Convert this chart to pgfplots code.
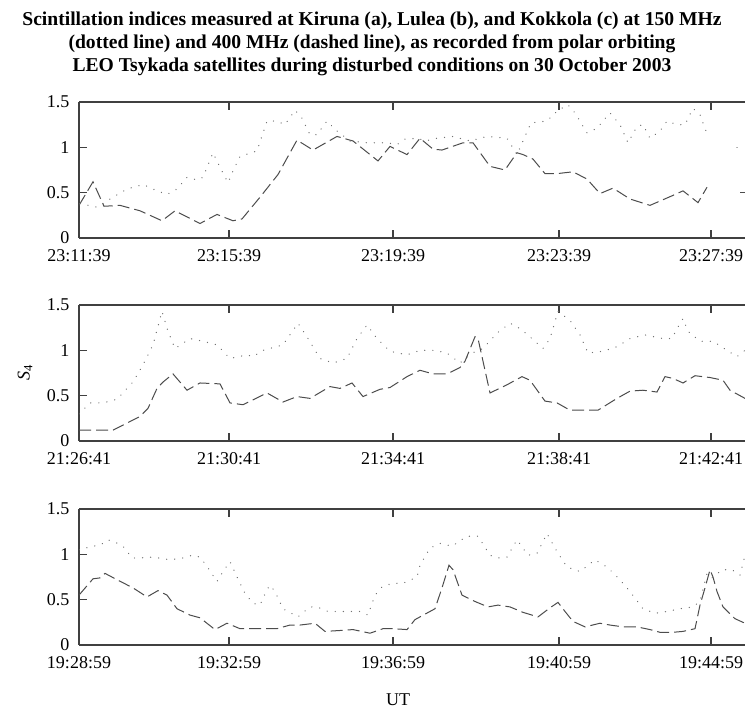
\documentclass[border=0pt]{standalone}
\usepackage{fontspec}
\setmainfont{Liberation Serif}
\usepackage{pgfplots}
\pgfplotsset{compat=1.18}

\pgfplotsset{
  panel/.style={
    scale only axis, width=666pt, height=136pt,
    xmin=0, xmax=666, ymin=0, ymax=1.5,
    axis y line*=left,
    ytick={0,0.5,1,1.5},
    xtick={0,150,314,480,632},
    tick align=inside, major tick length=8pt,
    axis line style={line width=1.1pt, black!75},
    every tick/.style={line width=1.1pt, black!75},
    tick label style={font=\fontsize{18}{20}\selectfont},
    /pgf/number format/assume math mode=true,
    xticklabel style={yshift=-8pt},
    yticklabel style={xshift=-6pt},
  },
  s400/.style={line width=1.0pt, black!70, dash pattern=on 12pt off 5pt, no marks},
  s150/.style={line width=1.3pt, black!55, dash pattern=on 0.1pt off 8pt, line cap=round, no marks},
}

\begin{document}
\begin{tikzpicture}[x=1pt,y=1pt]

% title
\node[align=center, font=\bfseries\fontsize{19.6}{23}\selectfont] at (372,666)
  {Scintillation indices measured at Kiruna (a), Lulea (b), and Kokkola (c) at 150 MHz\\
   (dotted line) and 400 MHz (dashed line), as recorded from polar orbiting\\
   LEO Tsykada satellites during disturbed conditions on 30 October 2003};

% (a) Kiruna
\begin{axis}[panel, at={(79pt,472pt)}, anchor=south west,
  xticklabels={23:11:39,23:15:39,23:19:39,23:23:39,23:27:39}]
\addplot[s400] coordinates {(0,0.36)(14,0.62)(25,0.35)(41,0.36)(61,0.30)(83,0.19)(96,0.30)(121,0.16)(138,0.26)(154,0.19)(163,0.21)(181,0.45)(199,0.70)(218,1.08)(234,0.97)(258,1.12)(274,1.07)(299,0.85)(311,1.01)(328,0.92)(341,1.10)(354,0.98)(363,0.97)(384,1.05)(394,1.05)(411,0.79)(426,0.75)(431,0.83)(438,0.94)(444,0.92)(454,0.87)(466,0.71)(478,0.71)(494,0.73)(508,0.65)(521,0.49)(534,0.55)(551,0.43)(571,0.36)(594,0.47)(604,0.52)(619,0.39)(628,0.56)};
\addplot[s400] coordinates {(661,0.50)(666,0.50)};
\addplot[s150] coordinates {(1,0.38)(18,0.34)(34,0.45)(48,0.54)(64,0.59)(78,0.52)(88,0.48)(98,0.54)(108,0.67)(118,0.64)(124,0.67)(134,0.94)(141,0.78)(149,0.61)(154,0.74)(161,0.90)(178,0.96)(188,1.29)(198,1.29)(206,1.25)(216,1.41)(223,1.32)(231,1.14)(238,1.14)(248,1.29)(258,1.18)(271,1.07)(288,1.05)(308,1.05)(318,1.03)(326,1.09)(339,1.10)(346,1.07)(358,1.10)(374,1.12)(391,1.07)(408,1.12)(428,1.10)(438,0.92)(446,1.12)(452,1.27)(468,1.29)(478,1.40)(489,1.47)(496,1.38)(503,1.25)(508,1.16)(518,1.21)(531,1.38)(541,1.25)(549,1.05)(558,1.23)(564,1.25)(571,1.10)(581,1.18)(588,1.29)(598,1.25)(606,1.25)(614,1.43)(621,1.36)(629,1.12)};
\addplot[s150] coordinates {(658,1.00)(666,1.00)};
\end{axis}

% (b) Lulea
\begin{axis}[panel, at={(79pt,269pt)}, anchor=south west,
  xticklabels={21:26:41,21:30:41,21:34:41,21:38:41,21:42:41}]
\addplot[s400] coordinates {(0,0.12)(34,0.12)(61,0.27)(69,0.36)(78,0.58)(84,0.65)(94,0.74)(108,0.56)(121,0.64)(141,0.63)(151,0.42)(164,0.40)(188,0.53)(204,0.43)(218,0.49)(231,0.47)(251,0.60)(261,0.58)(273,0.64)(284,0.49)(301,0.57)(311,0.59)(328,0.71)(341,0.78)(354,0.74)(368,0.74)(381,0.81)(386,0.88)(396,1.15)(399,1.13)(404,0.88)(411,0.53)(428,0.62)(443,0.71)(451,0.67)(466,0.44)(478,0.42)(491,0.34)(504,0.34)(519,0.34)(538,0.47)(551,0.55)(564,0.56)(578,0.54)(586,0.71)(594,0.69)(604,0.64)(616,0.72)(631,0.70)(644,0.67)(651,0.56)(666,0.47)};
\addplot[s150] coordinates {(0,0.30)(11,0.42)(24,0.42)(38,0.46)(54,0.65)(64,0.84)(74,1.06)(83,1.43)(89,1.21)(96,1.02)(111,1.13)(124,1.10)(138,1.06)(151,0.91)(168,0.95)(174,0.93)(184,1.00)(204,1.06)(219,1.30)(229,1.13)(241,0.91)(254,0.86)(268,0.91)(278,1.13)(288,1.28)(298,1.13)(311,0.99)(328,0.95)(341,1.00)(356,1.00)(368,0.97)(381,0.86)(393,0.97)(398,0.99)(404,1.02)(418,1.19)(431,1.30)(441,1.24)(451,1.15)(464,1.02)(471,1.13)(479,1.43)(491,1.33)(501,1.17)(509,0.97)(524,0.99)(538,1.04)(551,1.13)(566,1.17)(584,1.13)(593,1.13)(598,1.24)(604,1.35)(609,1.21)(621,1.10)(634,1.10)(648,1.00)(658,0.93)(666,1.00)};
\end{axis}

% (c) Kokkola
\begin{axis}[panel, at={(79pt,65pt)}, anchor=south west,
  xticklabels={19:28:59,19:32:59,19:36:59,19:40:59,19:44:59}]
\addplot[s400] coordinates {(0,0.55)(14,0.73)(21,0.74)(26,0.79)(38,0.72)(54,0.63)(68,0.53)(79,0.60)(88,0.55)(98,0.40)(111,0.33)(121,0.30)(136,0.17)(148,0.24)(161,0.18)(181,0.18)(198,0.18)(211,0.22)(221,0.22)(236,0.24)(246,0.15)(261,0.16)(274,0.17)(291,0.13)(304,0.18)(314,0.18)(328,0.17)(336,0.28)(341,0.31)(356,0.40)(363,0.63)(370,0.88)(374,0.83)(383,0.55)(396,0.48)(409,0.42)(419,0.44)(431,0.42)(444,0.36)(459,0.31)(471,0.41)(479,0.47)(486,0.37)(494,0.26)(506,0.20)(521,0.24)(531,0.22)(544,0.20)(558,0.20)(571,0.17)(581,0.14)(594,0.14)(604,0.15)(616,0.18)(621,0.44)(626,0.63)(631,0.83)(634,0.75)(638,0.59)(644,0.42)(656,0.29)(666,0.24)};
\addplot[s150] coordinates {(0,1.05)(14,1.09)(21,1.10)(29,1.16)(39,1.12)(44,1.09)(53,0.96)(61,0.96)(74,0.97)(91,0.94)(104,0.96)(113,0.99)(121,0.97)(129,0.85)(138,0.70)(144,0.81)(151,0.92)(158,0.75)(166,0.57)(174,0.46)(181,0.44)(188,0.61)(191,0.66)(196,0.59)(204,0.40)(219,0.31)(231,0.42)(238,0.42)(249,0.37)(268,0.37)(281,0.37)(289,0.33)(296,0.55)(303,0.64)(313,0.68)(324,0.68)(338,0.75)(341,0.88)(351,1.07)(361,1.12)(373,1.09)(388,1.20)(399,1.20)(411,0.99)(419,0.96)(428,0.97)(438,1.16)(449,0.99)(458,1.01)(468,1.23)(478,1.03)(488,0.86)(501,0.81)(516,0.94)(528,0.86)(541,0.72)(551,0.59)(564,0.40)(576,0.35)(588,0.37)(601,0.40)(614,0.42)(621,0.48)(628,0.79)(633,0.74)(643,0.83)(653,0.83)(661,0.77)(666,0.99)};
\end{axis}

% axis titles
\node[rotate=90, font=\fontsize{18}{20}\selectfont] at (25,337) {\textit{S}\textsubscript{4}};
\node[font=\fontsize{18}{20}\selectfont] at (398,10) {UT};

\pgfresetboundingbox
\path[use as bounding box] (0,0) rectangle (745,710);
\end{tikzpicture}
\end{document}
